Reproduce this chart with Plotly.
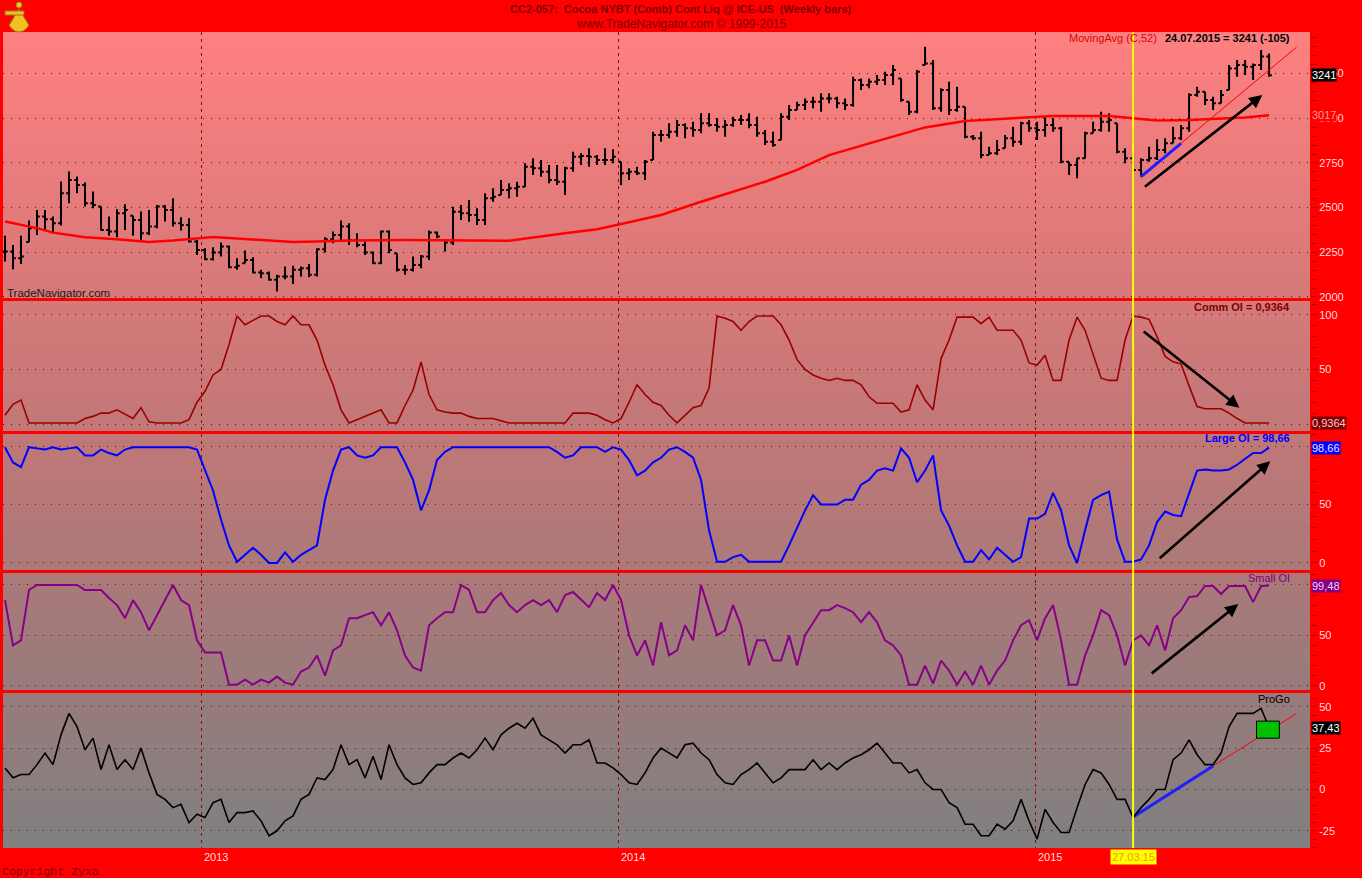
import math
import zlib
import struct
import base64
import pandas as pd
import plotly.graph_objects as go

W, H = 1362, 878
FONT = "Liberation Sans"

# ---------------- data ----------------
first_bar = "2012-07-13"
n_bars = 159
bar_dates = pd.date_range(first_bar, periods=n_bars, freq="7D")

highs = [2342, 2291, 2342, 2428, 2487, 2487, 2450, 2646, 2702, 2674,
         2640, 2590, 2506, 2450, 2491, 2519, 2454, 2478, 2487, 2515,
         2515, 2552, 2446, 2441, 2319, 2273, 2278, 2304, 2286, 2217,
         2260, 2222, 2152, 2142, 2124, 2170, 2174, 2170, 2185, 2273,
         2334, 2366, 2428, 2413, 2357, 2310, 2254, 2372, 2372, 2245,
         2179, 2226, 2235, 2372, 2366, 2319, 2505, 2515, 2543, 2496,
         2580, 2608, 2655, 2636, 2645, 2748, 2776, 2766, 2739, 2739,
         2729, 2813, 2804, 2832, 2794, 2832, 2826, 2757, 2720, 2729,
         2766, 2925, 2934, 2972, 2990, 2972, 2981, 3028, 3028, 3000,
         2990, 3009, 3018, 3028, 3009, 2934, 2925, 3028, 3074, 3093,
         3111, 3121, 3140, 3140, 3121, 3111, 3233, 3223, 3223, 3242,
         3261, 3298, 3223, 3093, 3270, 3401, 3326, 3168, 3205, 3177,
         3065, 2906, 2925, 2841, 2878, 2906, 2953, 2981, 2990, 2981,
         3009, 3000, 2953, 2757, 2776, 2925, 2981, 3037, 3028, 2972,
         2832, 2813, 2776, 2841, 2882, 2888, 2953, 2962, 3140, 3177,
         3149, 3121, 3158, 3298, 3326, 3326, 3307, 3382, 3363]
lows = [2198, 2155, 2185, 2308, 2347, 2372, 2357, 2400, 2525, 2581,
        2506, 2497, 2372, 2342, 2334, 2375, 2342, 2310, 2347, 2385,
        2422, 2394, 2372, 2304, 2235, 2207, 2204, 2226, 2161, 2152,
        2189, 2133, 2105, 2092, 2030, 2099, 2073, 2114, 2110, 2114,
        2248, 2301, 2319, 2291, 2278, 2235, 2185, 2185, 2245, 2142,
        2124, 2142, 2161, 2207, 2329, 2254, 2291, 2431, 2421, 2403,
        2403, 2533, 2571, 2552, 2561, 2617, 2683, 2673, 2636, 2627,
        2571, 2701, 2739, 2729, 2739, 2739, 2748, 2627, 2655, 2683,
        2655, 2766, 2869, 2888, 2897, 2888, 2897, 2916, 2953, 2925,
        2897, 2953, 2962, 2944, 2897, 2850, 2841, 2878, 2990, 3046,
        3046, 3056, 3037, 3084, 3056, 3046, 3065, 3158, 3168, 3186,
        3186, 3186, 3093, 3018, 3028, 3298, 3046, 3037, 3018, 3037,
        2888, 2878, 2776, 2794, 2794, 2832, 2841, 2850, 2925, 2878,
        2897, 2925, 2748, 2683, 2664, 2776, 2916, 2925, 2925, 2804,
        2748, 2701, 2673, 2757, 2767, 2804, 2860, 2878, 2925, 3121,
        3074, 3046, 3084, 3158, 3233, 3242, 3214, 3270, 3233]
closes = [2254, 2217, 2226, 2385, 2450, 2435, 2413, 2581, 2655, 2627,
          2525, 2515, 2375, 2366, 2469, 2487, 2431, 2357, 2394, 2506,
          2487, 2413, 2403, 2310, 2263, 2211, 2248, 2282, 2166, 2174,
          2207, 2137, 2133, 2096, 2114, 2114, 2152, 2161, 2124, 2267,
          2323, 2347, 2394, 2319, 2291, 2248, 2189, 2366, 2263, 2152,
          2152, 2179, 2226, 2360, 2338, 2304, 2477, 2468, 2459, 2431,
          2552, 2561, 2599, 2608, 2617, 2729, 2720, 2701, 2655, 2645,
          2720, 2785, 2789, 2785, 2766, 2766, 2785, 2692, 2701, 2692,
          2757, 2906, 2906, 2925, 2962, 2944, 2934, 2972, 2962, 2953,
          2962, 2990, 2990, 2962, 2916, 2869, 2850, 3009, 3046, 3074,
          3093, 3093, 3111, 3111, 3084, 3074, 3214, 3186, 3205, 3214,
          3242, 3270, 3102, 3037, 3261, 3307, 3056, 3158, 3046, 3065,
          2897, 2888, 2794, 2804, 2822, 2888, 2869, 2972, 2944, 2934,
          2962, 2944, 2757, 2739, 2776, 2916, 2934, 2981, 2990, 2813,
          2776, 2711, 2767, 2776, 2822, 2860, 2888, 2944, 3130, 3149,
          3102, 3084, 3130, 3279, 3298, 3289, 3298, 3346, 3241]

# 52-week moving average, read at selected bars (bar index, value)
ma_idx = [0, 4, 6, 10, 14, 18, 21, 23, 26, 29, 33, 36, 39, 43, 50, 55, 60, 63,
          70, 74, 77, 82, 87, 91, 95, 99, 103, 109, 115, 120, 125, 131, 138,
          142, 144, 148, 155, 158]
ma_val = [2422, 2385, 2360, 2334, 2323, 2308, 2316, 2323, 2336, 2327, 2314,
          2308, 2310, 2316, 2319, 2318, 2313, 2315, 2356, 2379, 2408, 2459,
          2533, 2589, 2645, 2711, 2794, 2872, 2949, 2985, 2996, 3013, 3013,
          2998, 2987, 2990, 3005, 3017]

comm_oi = [8, 18, 22, 1, 1, 1, 1, 1, 1, 1,
           5, 7, 10, 10, 13, 9, 5, 15, 2, 1,
           1, 1, 1, 4, 20, 30, 45, 50, 73, 99,
           91, 95, 99, 99, 94, 91, 99, 91, 91, 77,
           54, 36, 13, 1, 4, 7, 10, 13, 1, 1,
           17, 31, 57, 27, 13, 11, 10, 10, 7, 5,
           5, 5, 3, 1, 1, 1, 1, 1, 1, 1,
           1, 10, 10, 10, 8, 4, 1, 5, 20, 36,
           27, 20, 17, 8, 1, 8, 15, 17, 33, 99,
           97, 94, 86, 94, 99, 99, 99, 91, 77, 59,
           50, 45, 42, 40, 42, 40, 40, 36, 25, 19,
           19, 19, 11, 13, 36, 22, 13, 60, 77, 98,
           98, 98, 92, 98, 86, 86, 86, 77, 56, 54,
           63, 40, 40, 77, 98, 86, 63, 42, 40, 40,
           77, 99, 98, 96, 80, 62, 57, 55, 35, 16,
           14, 14, 14, 10, 5, 1, 1, 1, 0.9364]

large_oi = [99, 86, 82, 99, 98, 97, 99, 97, 98, 99,
            92, 92, 97, 94, 92, 97, 99, 99, 99, 99,
            99, 99, 99, 99, 97, 79, 62, 37, 15, 1,
            7, 13, 7, 0, 0, 9, 1, 7, 11, 15,
            54, 79, 97, 99, 92, 90, 92, 99, 99, 99,
            86, 71, 45, 62, 88, 95, 99, 99, 99, 99,
            99, 99, 99, 99, 99, 99, 99, 99, 99, 95,
            90, 92, 99, 99, 99, 95, 99, 97, 88, 75,
            79, 86, 90, 97, 99, 95, 90, 71, 28, 1,
            1, 5, 7, 1, 1, 1, 1, 1, 15, 30,
            45, 58, 50, 50, 50, 54, 54, 67, 71, 79,
            81, 79, 98, 90, 69, 79, 92, 45, 32, 15,
            1, 1, 11, 3, 13, 7, 1, 5, 38, 38,
            42, 60, 45, 15, 0, 28, 54, 58, 61, 20,
            1, 1, 3, 15, 35, 44, 41, 40, 60, 79,
            80, 79, 79, 80, 84, 89, 94, 94, 98.66]

small_oi = [85, 40, 45, 95, 100, 100, 100, 100, 100, 100,
            95, 95, 95, 87, 80, 67, 85, 73, 55, 70,
            85, 100, 85, 80, 45, 33, 33, 33, 1, 1,
            6, 1, 6, 3, 9, 3, 1, 14, 18, 30,
            10, 35, 40, 67, 67, 70, 73, 60, 73, 55,
            30, 18, 15, 60, 67, 73, 73, 100, 95, 73,
            73, 85, 92, 80, 73, 80, 85, 80, 85, 73,
            90, 93, 85, 78, 92, 85, 100, 85, 50, 30,
            45, 20, 63, 30, 35, 60, 45, 100, 75, 50,
            55, 80, 60, 20, 45, 45, 25, 25, 50, 20,
            50, 63, 75, 75, 80, 77, 73, 63, 73, 63,
            45, 40, 30, 1, 1, 20, 2, 25, 15, 1,
            14, 1, 20, 1, 15, 25, 45, 60, 65, 45,
            67, 80, 45, 1, 1, 30, 50, 75, 70, 50,
            20, 45, 50, 40, 60, 35, 67, 75, 88, 89,
            99, 99, 91, 99, 99, 99, 83, 99, 99.48]

progo = [13, 7, 9, 9, 15, 22, 15, 33, 46, 38,
         24, 31, 12, 27, 12, 18, 12, 25, 10, -3,
         -6, -11, -9, -20, -15, -17, -8, -6, -20, -14,
         -14, -13, -19, -28, -25, -19, -16, -6, -3, 7,
         6, 12, 27, 15, 18, 7, 20, 6, 27, 15,
         7, 3, 4, 10, 15, 15, 19, 22, 19, 24,
         31, 24, 33, 37, 40, 37, 43, 33, 30, 27,
         22, 27, 27, 30, 16, 16, 13, 9, 4, 3,
         10, 19, 25, 22, 19, 27, 28, 22, 18, 9,
         4, 3, 9, 12, 16, 10, 4, 7, 12, 12,
         12, 18, 12, 16, 12, 16, 19, 21, 24, 28,
         22, 16, 16, 10, 12, 4, 0, 0, -8, -11,
         -21, -21, -28, -28, -21, -24, -19, -6, -19, -30,
         -12, -20, -26, -26, -11, 3, 12, 10, 3, -6,
         -6, -17, -11, -6, 0, 0, 18, 22, 30, 21,
         15, 15, 22, 38, 46, 46, 46, 49, 37.43]

price_ticks = [2000, 2250, 2500, 2750, 3000, 3250]
price_tick_text = ["2000", "2250", "2500", "2750", "3000", "3250"]
osc_ticks = [0, 50, 100]
comm_tick_text = ["", "50", "100"]     # "0" sits under the 0,9364 value box
large_tick_text = ["0", "50", ""]      # "100" sits under the 98,66 value box
small_tick_text = ["0", "50", ""]      # "100" sits under the 99,48 value box
progo_ticks = [-25, 0, 25, 50]
progo_tick_text = ["-25", "0", "25", "50"]
year_ticks = ["2013-01-01", "2014-01-01", "2015-01-01"]
year_labels = ["2013", "2014", "2015"]
marker_date = "2015-03-27"
marker_label = "27.03.15"

# trend lines drawn on the chart (date, value)
price_trend_blue = (["2015-04-03", "2015-05-08"], [2673, 2860])
price_trend_red = (["2015-05-08", "2015-08-17"], [2860, 3398])
progo_trend_blue = (["2015-03-27", "2015-06-05"], [-16.6, 14.2])
progo_trend_red = (["2015-06-05", "2015-08-17"], [14.2, 45.9])

# ---------------- helpers ----------------
def py(px):
    return 1 - px / H

def pxx(px):
    return px / W

opens = [closes[0]] + closes[:-1]
opens = [min(max(o, l), h) for o, l, h in zip(opens, lows, highs)]
ma_dates = [bar_dates[i] for i in ma_idx]

panels = [(32, 298), (301, 431), (434, 570), (573, 690), (693, 848)]
yranges = [[1994, 3483], [-6.4, 112.8], [-6.0, 110.3], [-4.3, 111.9], [-35.4, 58.3]]
x_range = ["2012-07-11 06:00", "2015-08-28 19:00"]
XD = [pxx(3), pxx(1310)]

# ---- background gradient as a small PNG (one row per pixel, red separators) ----
def make_png(rows, width=2):
    raw = b"".join(b"\x00" + bytes(c) * width for c in rows)

    def chunk(tag, data):
        return (struct.pack(">I", len(data)) + tag + data +
                struct.pack(">I", zlib.crc32(tag + data) & 0xFFFFFFFF))

    png = (b"\x89PNG\r\n\x1a\n" +
           chunk(b"IHDR", struct.pack(">IIBBBBB", width, len(rows), 8, 2, 0, 0, 0)) +
           chunk(b"IDAT", zlib.compress(raw, 9)) + chunk(b"IEND", b""))
    return "data:image/png;base64," + base64.b64encode(png).decode()

rows = []
for y in range(32, 848):
    inside = any(top <= y < bot for top, bot in panels)
    if inside:
        t = (y + 0.5 - 32) / (848 - 32)
        r = round(255 - 127 * t)
        g = round(128 - 8 * math.sin(math.pi * t))
        rows.append((r, g, g))
    else:
        rows.append((255, 0, 0))
bg_src = make_png(rows)

fig = go.Figure()

fig.add_trace(go.Ohlc(
    x=bar_dates, open=opens, high=highs, low=lows, close=closes,
    increasing=dict(line=dict(color="black", width=2)),
    decreasing=dict(line=dict(color="black", width=2)),
    tickwidth=0.35, xaxis="x", yaxis="y", hoverinfo="skip"))
fig.add_trace(go.Scatter(x=ma_dates, y=ma_val, mode="lines",
                         line=dict(color="#FF0000", width=2.5), xaxis="x", yaxis="y"))
fig.add_trace(go.Scatter(x=price_trend_blue[0], y=price_trend_blue[1], mode="lines",
                         line=dict(color="#1E1EFF", width=3), xaxis="x", yaxis="y"))
fig.add_trace(go.Scatter(x=price_trend_red[0], y=price_trend_red[1], mode="lines",
                         line=dict(color="#FF0000", width=1), xaxis="x", yaxis="y"))
fig.add_trace(go.Scatter(x=bar_dates, y=comm_oi, mode="lines",
                         line=dict(color="#990000", width=1.6), xaxis="x2", yaxis="y2"))
fig.add_trace(go.Scatter(x=bar_dates, y=large_oi, mode="lines",
                         line=dict(color="#0000FF", width=2), xaxis="x3", yaxis="y3"))
fig.add_trace(go.Scatter(x=bar_dates, y=small_oi, mode="lines",
                         line=dict(color="#880088", width=2), xaxis="x4", yaxis="y4"))
fig.add_trace(go.Scatter(x=progo_trend_blue[0], y=progo_trend_blue[1], mode="lines",
                         line=dict(color="#1E1EFF", width=3), xaxis="x5", yaxis="y5"))
fig.add_trace(go.Scatter(x=progo_trend_red[0], y=progo_trend_red[1], mode="lines",
                         line=dict(color="#FF0000", width=1), xaxis="x5", yaxis="y5"))
fig.add_trace(go.Scatter(x=bar_dates, y=progo, mode="lines",
                         line=dict(color="black", width=1.6), xaxis="x5", yaxis="y5"))

tick_font = dict(family=FONT, size=11, color="#FFDCDC")
layout = dict(
    width=W, height=H, autosize=False, margin=dict(l=0, r=0, t=0, b=0, pad=0),
    paper_bgcolor="#FF0000", plot_bgcolor="rgba(0,0,0,0)",
    showlegend=False, hovermode=False, font=dict(family=FONT),
)

ytick_sets = [
    (price_ticks, price_tick_text, 50),
    (osc_ticks, comm_tick_text, 10),
    (osc_ticks, large_tick_text, 10),
    (osc_ticks, small_tick_text, 10),
    (progo_ticks, progo_tick_text, 5),
]
for k in range(5):
    sfx = "" if k == 0 else str(k + 1)
    top, bot = panels[k]
    xa = dict(domain=XD, range=x_range, type="date", anchor="y" + sfx,
              showticklabels=False, tickvals=year_ticks, ticks="",
              showgrid=True, gridcolor="#A00000", griddash="3px,4px", gridwidth=1,
              zeroline=False, showline=False, rangeslider=dict(visible=False),
              automargin=False, fixedrange=True)
    if k > 0:
        xa["matches"] = "x"
    vals, texts, mdt = ytick_sets[k]
    ya = dict(domain=[py(bot), py(top)], range=yranges[k], anchor="x" + sfx,
              side="right", tickmode="array", tickvals=vals, ticktext=texts,
              tickfont=tick_font, ticks="outside", ticklen=6, tickcolor="#B00000",
              tickwidth=1, automargin=False,
              minor=dict(tickmode="linear", tick0=0, dtick=mdt, ticks="outside",
                         ticklen=6, tickcolor="#B00000", tickwidth=1, showgrid=False),
              showgrid=True, gridcolor="rgba(70,0,0,0.85)", griddash="1px,7px",
              gridwidth=1, zeroline=False, showline=False, fixedrange=True)
    layout["xaxis" + sfx] = xa
    layout["yaxis" + sfx] = ya

layout["images"] = [dict(source=bg_src, xref="paper", yref="paper",
                         x=XD[0], y=py(32), sizex=XD[1] - XD[0], sizey=(848 - 32) / H,
                         xanchor="left", yanchor="top", sizing="stretch",
                         layer="below")]

shapes = []
shapes.append(dict(type="line", xref="x", yref="paper", x0=marker_date, x1=marker_date,
                   y0=py(848), y1=py(32), line=dict(color="#FFFF00", width=2),
                   layer="above"))
shapes.append(dict(type="rect", xref="x5", yref="y5", x0="2015-07-13", x1="2015-08-02",
                   y0=31.0, y1=41.3, fillcolor="#00C000",
                   line=dict(color="black", width=1), layer="above"))

# small golden sextant-like logo in the top-left corner (decoration)
def ppath(points, close=True):
    s = "M " + " L ".join("%.5f,%.5f" % (pxx(x), py(y)) for x, y in points)
    return s + (" Z" if close else "")

gold = "#F0C020"
dgold = "#A07810"
fan = [(19, 9)] + [(19 + 14 * math.sin(a), 9 + 23 * math.cos(a))
                   for a in [i * math.pi / 12 - math.pi / 4 for i in range(7)]]
shapes.append(dict(type="path", xref="paper", yref="paper", path=ppath(fan),
                   fillcolor=gold, line=dict(color=dgold, width=1)))
shapes.append(dict(type="rect", xref="paper", yref="paper", x0=pxx(5), x1=pxx(24),
                   y0=py(15), y1=py(11), fillcolor=gold, line=dict(color=dgold, width=1)))
shapes.append(dict(type="circle", xref="paper", yref="paper", x0=pxx(16), x1=pxx(22),
                   y0=py(8), y1=py(2), fillcolor=gold, line=dict(color=dgold, width=1)))
layout["shapes"] = shapes

ann = []

def text(t, x, y, color, size=11, xanchor="right", yanchor="middle", bold=False,
         family=FONT, **kw):
    d = dict(text=("<b>%s</b>" % t) if bold else t, x=pxx(x), y=py(y),
             xref="paper", yref="paper", xanchor=xanchor, yanchor=yanchor,
             showarrow=False, font=dict(family=family, size=size, color=color))
    d.update(kw)
    ann.append(d)

text("CC2-057:\u00a0 Cocoa NYBT (Comb) Cont Liq @ ICE-US\u00a0 (Weekly bars)", 681, 9,
     "#800000", size=11, xanchor="center", bold=True)
text("www.TradeNavigator.com © 1999-2015", 681, 24, "#800000", size=12, xanchor="center")
text("MovingAvg (C,52)", 1159, 38, "#E00000", size=11)
text("24.07.2015 = 3241 (-105)", 1292, 38, "#000000", size=11, bold=True)
text("Comm OI = 0,9364", 1292, 307, "#800000", size=11, bold=True)
text("Large OI = 98,66", 1292, 438, "#0000FF", size=11, bold=True)
text("Small OI", 1292, 578, "#800080", size=11)
text("ProGo", 1292, 699, "#000000", size=11)
text("TradeNavigator.com", 5, 293, "#1A1A1A", size=11.5, xanchor="left")
text("Copyright Zyxa", 0, 871, "#800000", size=11.5, xanchor="left",
     family="Liberation Mono")

def vbox(t, yref, yval, fg, bg):
    ann.append(dict(text=t, x=pxx(1311), xref="paper", xanchor="left",
                    y=yval, yref=yref, yanchor="middle", showarrow=False,
                    font=dict(family=FONT, size=11, color=fg), bgcolor=bg,
                    borderpad=0))

vbox("3241", "y", 3241, "#FFFFFF", "#000000")
vbox("3017", "y", 3017, "#FF9C9C", "#FF0000")
vbox("0,9364", "y2", 0.9364, "#FFC8C8", "#800000")
vbox("98,66", "y3", 98.66, "#F0E0FF", "#0000FF")
vbox("99,48", "y4", 99.48, "#FFC8FF", "#800080")
vbox("37,43", "y5", 37.43, "#FFFFFF", "#000000")

for d, lab in zip(year_ticks, year_labels):
    ann.append(dict(text=lab, x=d, xref="x5", xanchor="left", y=py(857), yref="paper",
                    yanchor="middle", showarrow=False, font=dict(family=FONT, size=11,
                                                                color="#FFDCDC")))
ann.append(dict(text=marker_label, x=marker_date, xref="x5", xanchor="center",
                y=py(857), yref="paper", yanchor="middle", showarrow=False,
                bgcolor="#FFFF00", borderpad=1,
                font=dict(family=FONT, size=11, color="#E8A000")))

def arrow(xr, yr, tail_d, tail_v, head_d, head_v):
    ann.append(dict(text="", x=head_d, y=head_v, ax=tail_d, ay=tail_v,
                    xref=xr, yref=yr, axref=xr, ayref=yr, showarrow=True,
                    arrowhead=2, arrowsize=1, arrowwidth=2.6, arrowcolor="black"))

arrow("x", "y", "2015-04-05", 2610, "2015-07-18", 3130)
arrow("x2", "y2", "2015-04-04", 86, "2015-06-28", 15)
arrow("x3", "y3", "2015-04-18", 3, "2015-07-25", 87)
arrow("x4", "y4", "2015-04-11", 11, "2015-06-27", 81)

layout["annotations"] = ann
fig.update_layout(**layout)

fig.write_html("out.html", config={"displayModeBar": False, "responsive": False},
               post_script="document.body.style.margin='0px';"
                           "document.body.style.overflow='hidden';")
